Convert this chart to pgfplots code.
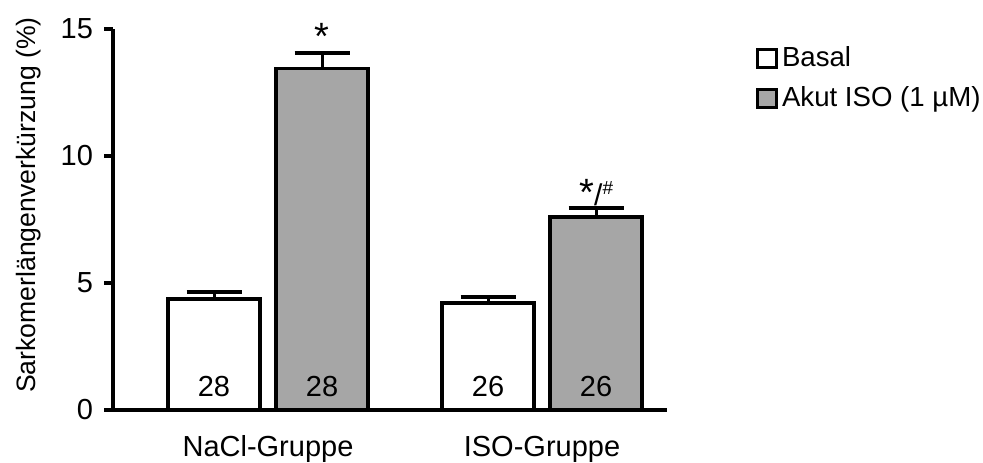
\documentclass[border=0pt]{standalone}
\usepackage{fontspec}
\setmainfont{Liberation Sans}
\usepackage{pgfplots}
\pgfplotsset{compat=1.18}
\definecolor{barg}{RGB}{166,166,166}
\begin{document}
\begin{tikzpicture}
\begin{axis}[
 scale only axis, width=277pt, height=190.5pt,
 xmin=0, xmax=554, ymin=0, ymax=15,
 axis lines=left,
 axis line style={-, line width=2pt},
 ytick={0,5,10,15},
 ytick style={line width=2pt, black},
 tick align=outside, major tick length=4.5pt,
 yticklabel style={xshift=-2pt},
 xtick={155,429}, xticklabels={NaCl-Gruppe, ISO-Gruppe},
 xtick style={draw=none},
 xticklabel style={anchor=base, yshift=-18.5pt},
 font=\fontsize{14.5}{17}\selectfont,
 tick label style={font=\fontsize{14.5}{17}\selectfont},
 /pgf/number format/assume math mode=true,
 ylabel={Sarkomerlängenverkürzung (\%)},
 ylabel style={at={(axis description cs:-0.153,0.538)}, anchor=center, font=\fontsize{13.3}{16}\selectfont},
 clip=false,
 legend style={at={(axis description cs:1.16,0.965)}, anchor=north west, draw=none, fill=none,
   font=\fontsize{13.8}{16}\selectfont, row sep=4.5pt, inner sep=0pt,
   nodes={inner xsep=2pt}},
 legend cell align=left,
 legend image code/.code={\draw[#1, line width=1.5pt] (0pt,-4.5pt) rectangle (9.5pt,4.5pt);},
]
\addplot[ybar, bar width=46pt, bar shift=0pt, fill=white, draw=black, line width=1.6pt,
  error bars/.cd, y dir=plus, y explicit,
  error bar style={line width=1.5pt},
  error mark options={rotate=90, mark size=13.75pt, line width=2pt}]
  coordinates {(101,4.37) +- (0,0.28) (375,4.21) +- (0,0.24)};
\addlegendentry{Basal}
\addplot[ybar, bar width=46pt, bar shift=0pt, fill=barg, draw=black, line width=1.6pt,
  error bars/.cd, y dir=plus, y explicit,
  error bar style={line width=1.5pt},
  error mark options={rotate=90, mark size=13.75pt, line width=2pt}]
  coordinates {(209,13.43) +- (0,0.63) (483,7.60) +- (0,0.35)};
\addlegendentry{Akut ISO (1 µM)}
\node[anchor=base] at (axis cs:101,0.52) {28};
\node[anchor=base] at (axis cs:209,0.52) {28};
\node[anchor=base] at (axis cs:375,0.52) {26};
\node[anchor=base] at (axis cs:483,0.52) {26};
\node[anchor=base, font=\fontsize{19}{19}\selectfont] at (axis cs:209,14.2) {*};
\node[anchor=base west, inner sep=0pt] at (axis cs:466,8.05) {{\fontsize{19}{19}\selectfont *}{\fontsize{15}{15}\selectfont /}{\fontsize{9.5}{9.5}\selectfont\raisebox{5.5pt}{\#}}};
\end{axis}
\pgfresetboundingbox
\path[use as bounding box] (-56.5pt,-26pt) rectangle (435pt,205pt);
\end{tikzpicture}
\end{document}
